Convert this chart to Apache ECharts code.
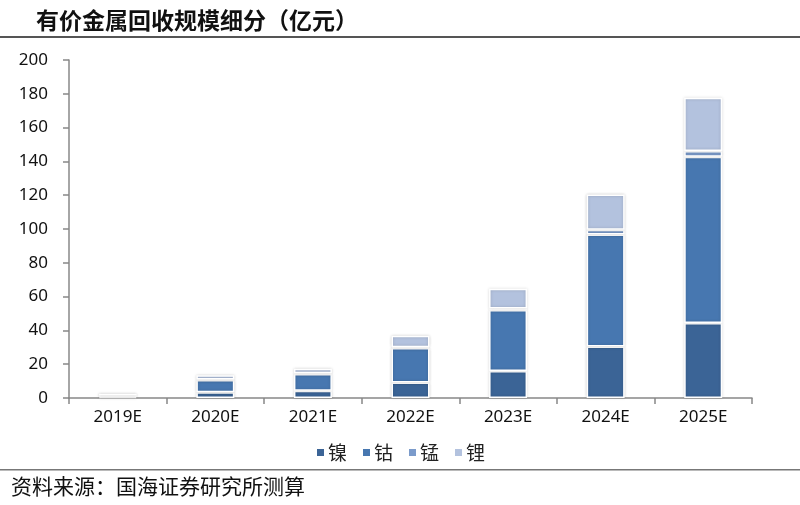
<!DOCTYPE html>
<html><head><meta charset="utf-8">
<script src="https://cdn.jsdelivr.net/npm/echarts@6/dist/echarts.min.js"></script>
<style>html,body{margin:0;padding:0;background:#fff}#c{width:800px;height:505px}</style>
</head><body><div id="c"></div>
<script>
const categories = ['2019E','2020E','2021E','2022E','2023E','2024E','2025E'];
const nickel = [0.6, 3.4, 4.3, 9.1, 16.0, 30.4, 44.4];
const cobalt = [1.2, 7.2, 9.9, 20.5, 36.1, 66.4, 98.4];
const manganese = [0.1, 0.3, 0.4, 0.5, 0.9, 2.8, 3.4];
const lithium = [0.3, 2.6, 2.7, 6.8, 11.6, 20.8, 31.4];
const yTicks = [0, 20, 40, 60, 80, 100, 120, 140, 160, 180, 200];
const names = ['镍','钴','锰','锂'];
const colors = ['#3B6496','#4777B0','#7B9BCB','#B3C2DE'];
const data = [nickel, cobalt, manganese, lithium];

const chart = echarts.init(document.getElementById('c'));
const font = '"Noto Sans CJK SC", "Noto Sans", sans-serif';
const numFont = '"Noto Sans", "Noto Sans CJK SC", sans-serif';
chart.setOption({
  animation: false,
  title: {
    text: '有价金属回收规模细分（亿元）',
    left: 31, top: 4,
    textStyle: {fontFamily: font, fontSize: 23, fontWeight: 'bold', color: '#111'}
  },
  legend: {
    data: names, bottom: 38, left: 'center',
    itemWidth: 9, itemHeight: 9, itemGap: 14, icon: 'rect',
    textStyle: {fontFamily: font, fontSize: 19, color: '#222', padding: [0,0,0,-2]}
  },
  grid: {left: 69, right: 48, top: 60, bottom: 107, containLabel: false},
  xAxis: {
    type: 'category', data: categories,
    axisLine: {lineStyle: {color: '#888', width: 1.5}},
    axisTick: {show: true, length: 6, lineStyle: {color: '#888', width: 1.5}},
    axisLabel: {fontFamily: numFont, fontSize: 17, color: '#111', margin: 11}
  },
  yAxis: {
    type: 'value', min: 0, max: 200, interval: 20,
    axisLine: {show: true, lineStyle: {color: '#888', width: 1.5}},
    axisTick: {show: true, length: 6, lineStyle: {color: '#888', width: 1.5}},
    axisLabel: {fontFamily: numFont, fontSize: 17, color: '#111', margin: 21,
      formatter: v => yTicks.includes(v) ? String(v) : ''},
    splitLine: {show: false}
  },
  series: data.map((d, i) => ({
    name: names[i], type: 'bar', stack: 'total', data: d, barWidth: 38,
    itemStyle: {color: colors[i], borderColor: '#fff', borderWidth: 1.5,
      shadowBlur: 3, shadowColor: 'rgba(0,0,0,0.18)'}
  })),
  graphic: [
    {type: 'rect', shape: {x: 0, y: 36, width: 800, height: 2}, style: {fill: '#555'}},
    {type: 'rect', shape: {x: 0, y: 469, width: 800, height: 1.5}, style: {fill: '#777'}},
    {type: 'text', left: 11, top: 476, style: {text: '资料来源：国海证券研究所测算', font: '21px ' + font, fill: '#111'}}
  ]
});
</script></body></html>
